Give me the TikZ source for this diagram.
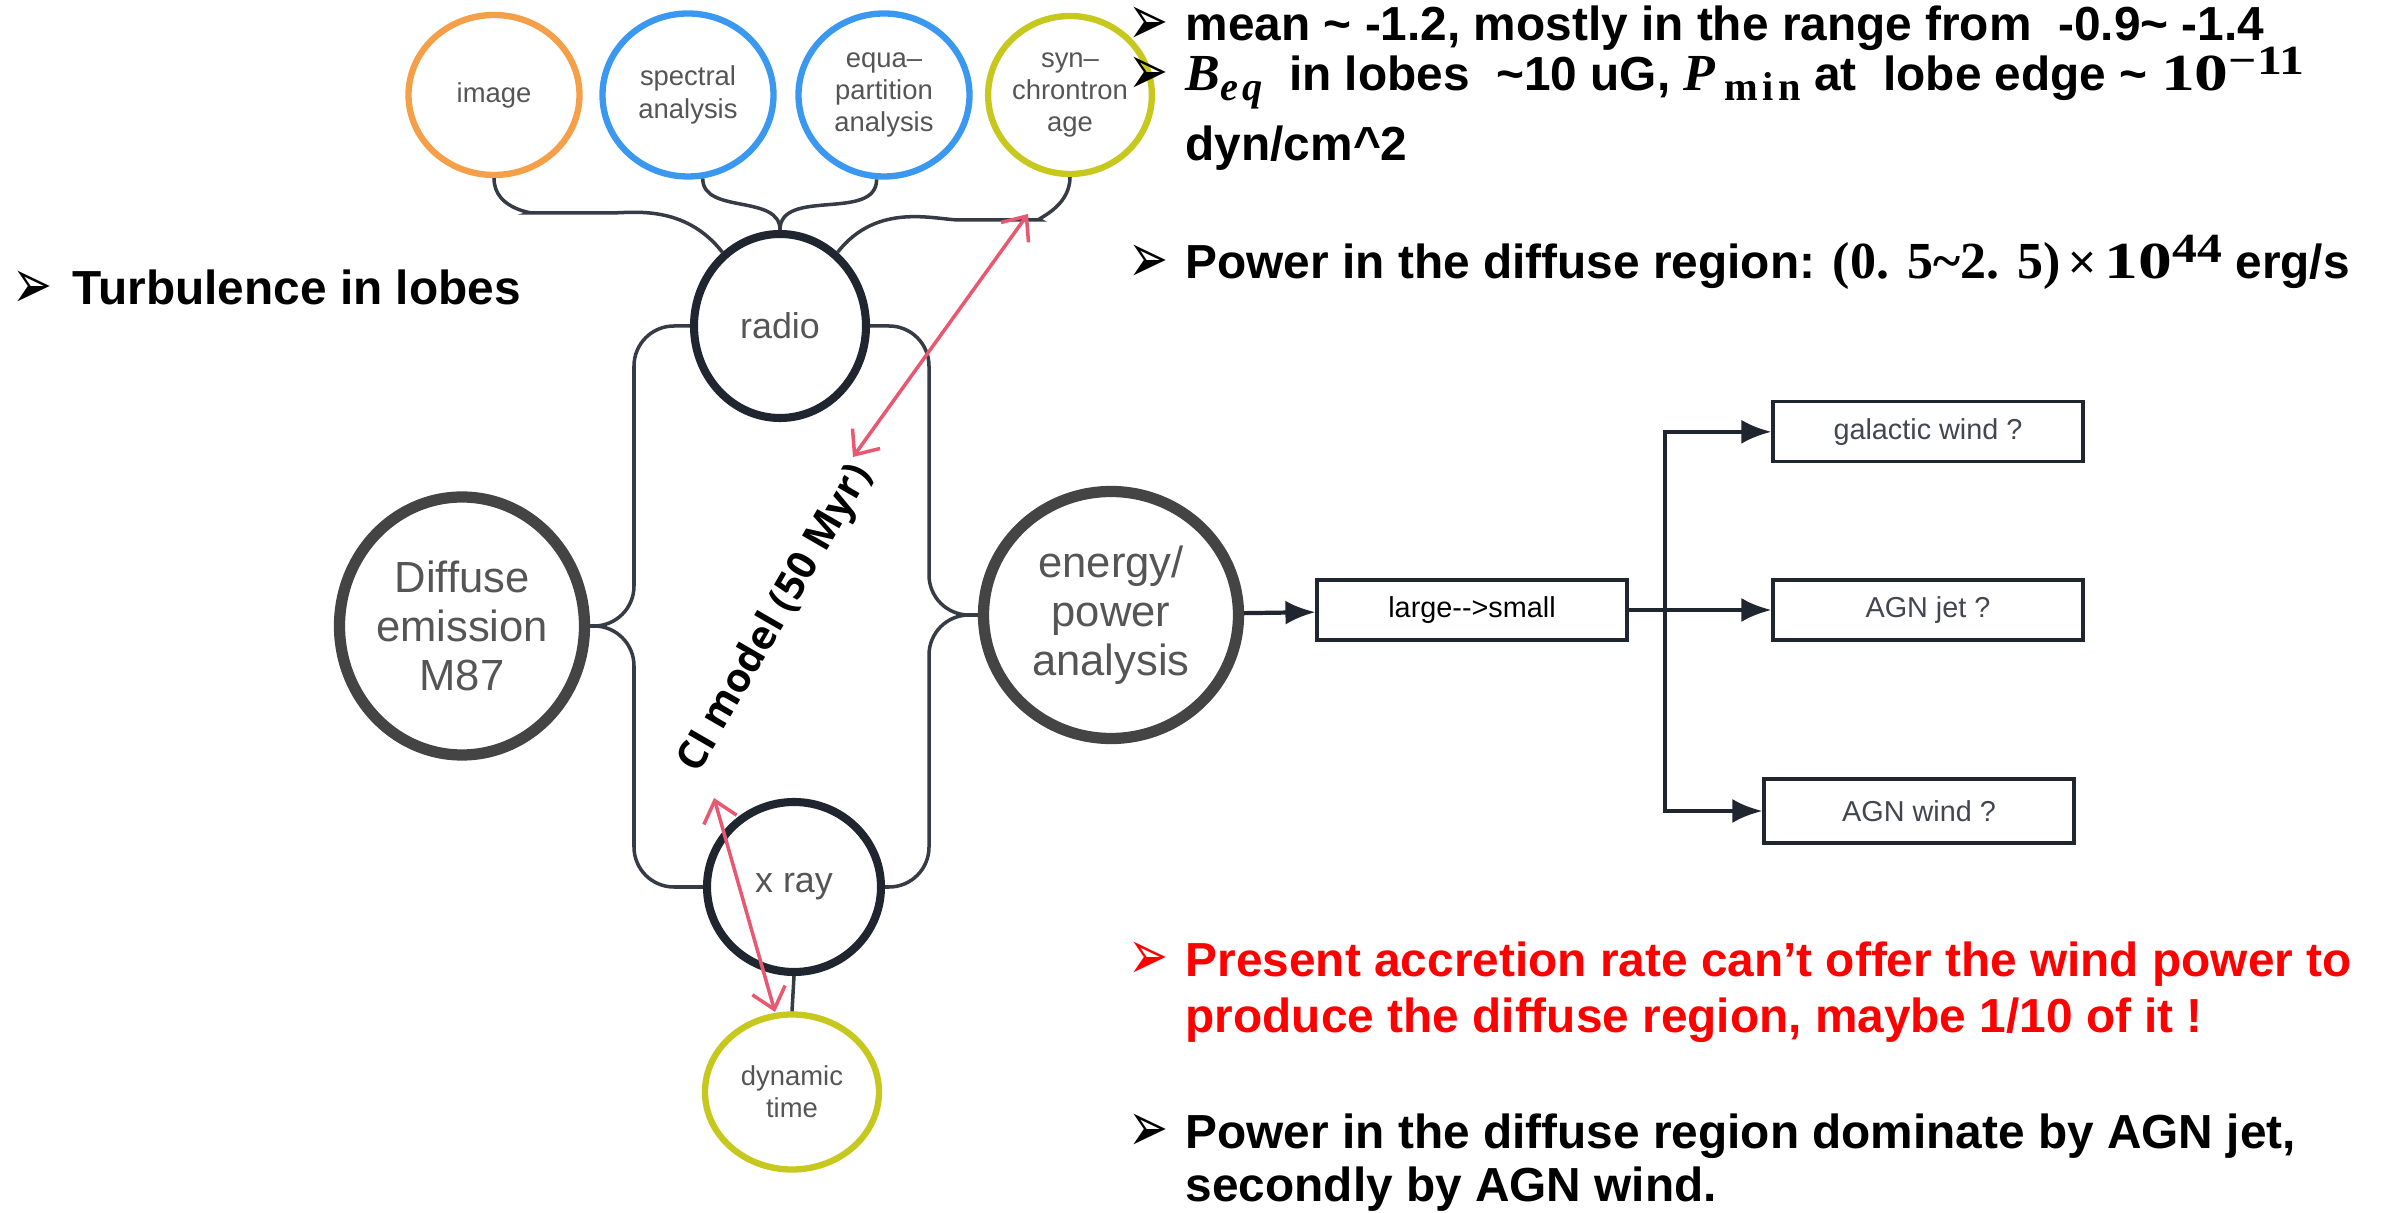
\documentclass[tikz,border=0pt]{standalone}
\usepackage[no-math]{fontspec}
\usepackage{amsmath}
\usepackage{graphicx}
\usepackage{xcolor}
\setmainfont{Liberation Sans}
\newfontfamily\symfont{DejaVu Sans}
\newfontfamily\labelfont{Open Sans}
\newfontfamily\mathserif{Liberation Serif}
\usetikzlibrary{shapes,arrows,arrows.meta,positioning,calc}

\definecolor{topicorange}{RGB}{245,160,72}
\definecolor{topicblue}{RGB}{58,152,240}
\definecolor{topicolive}{RGB}{198,200,30}
\definecolor{hubdark}{RGB}{32,38,48}
\definecolor{coregray}{RGB}{68,68,68}
\definecolor{labelgray}{RGB}{85,85,85}
\definecolor{agepink}{RGB}{232,88,112}

\newcommand{\bulletmark}{{\symfont\fontsize{20}{20}\selectfont\raisebox{-0.1ex}[0pt][0pt]{\scalebox{0.68}[1]{➢}}}}
\newcommand{\serifbit}[1]{{\mathserif\bfseries\fontsize{14.8}{16}\selectfont #1}}
\newcommand{\widebit}[1]{\scalebox{1.3}[1]{#1}}
\newcommand{\lowbit}[1]{\raisebox{-0.4ex}{\fontsize{11.5}{12}\selectfont #1}}
\newcommand{\highbit}[1]{\raisebox{0.7ex}{\fontsize{11.8}{12}\selectfont\scalebox{1.2}[1]{#1}}}

\begin{document}
\begin{tikzpicture}[
    topic/.style={ellipse, draw, line width=1.8pt, inner sep=0pt, align=center, text=labelgray, font=\fontsize{7.8}{9.2}\selectfont},
    hub/.style={ellipse, draw=hubdark, line width=2.3pt, inner sep=0pt, text=labelgray, font=\fontsize{10.2}{12}\selectfont},
    core/.style={ellipse, draw=coregray, line width=3.2pt, inner sep=0pt, align=center, text=labelgray, font=\fontsize{12.4}{14}\selectfont},
    outcome/.style={rectangle, draw=hubdark, line width=0.9pt, minimum width=3.1cm, minimum height=0.6cm, text=hubdark!85, font=\fontsize{8.2}{10}\selectfont},
    link/.style={draw=hubdark!90, line width=1pt, rounded corners=0.4cm},
    flow/.style={-{Latex[length=3mm,width=2.4mm]}, draw=hubdark, line width=1.2pt},
    agelink/.style={<->, >={Straight Barb[length=2mm,width=3.4mm]}, draw=agepink, line width=1pt},
    point/.style={anchor=base west, inner sep=0pt, font=\bfseries\fontsize{13.6}{16.2}\selectfont}
]
    \useasboundingbox (0,0) rectangle (24.07,12.12);

    % mind map
    \node[topic, draw=topicorange, minimum width=1.71cm, minimum height=1.6cm] (image) at (4.94,11.17) {image};
    \node[topic, draw=topicblue, minimum width=1.71cm, minimum height=1.63cm] (spectral) at (6.88,11.17) {spectral\\analysis};
    \node[topic, draw=topicblue, minimum width=1.71cm, minimum height=1.63cm] (equa) at (8.84,11.17) {equa–\\partition\\analysis};
    \node[topic, draw=topicolive, minimum width=1.58cm, minimum height=1.58cm] (syn) at (10.70,11.17) {syn–\\chrontron\\age};
    \node[hub, minimum width=1.72cm, minimum height=1.84cm] (radio) at (7.80,8.86) {radio};
    \node[core, minimum width=2.45cm, minimum height=2.58cm] (diffuse) at (4.62,5.86) {Diffuse\\emission\\M87};
    \node[core, minimum width=2.55cm, minimum height=2.47cm] (energy) at (11.11,5.97) {energy/\\power\\analysis};
    \node[hub, minimum width=1.74cm, minimum height=1.70cm] (xray) at (7.94,3.25) {x ray};
    \node[topic, draw=topicolive, minimum width=1.74cm, minimum height=1.55cm] (dynamic) at (7.92,1.20) {dynamic\\time};

    \coordinate (lbend) at (6.34,0);
    \coordinate (rbend) at (9.29,0);

    \draw[link] (image.south) to[out=-90,in=180] (5.7,9.99) to[out=0,in=128] (radio.128);
    \draw[link] (spectral.-80) to[out=-90,in=90] (radio.north);
    \draw[link] (equa.-95) to[out=-90,in=90] (radio.north);
    \draw[link] (syn.south) to[out=-90,in=0] (10.0,9.92) to[out=180,in=52] (radio.52);
    \draw[link] (radio.west) -| (lbend |- diffuse.east) -- (diffuse.east);
    \draw[link] (xray.west) -| (lbend |- diffuse.east) -- (diffuse.east);
    \draw[link] (radio.east) -| (rbend |- energy.west) -- (energy.west);
    \draw[link] (xray.east) -| (rbend |- energy.west) -- (energy.west);
    \draw[link] (xray.south) -- (dynamic.north);

    % CI model ages
    \coordinate (synage) at (10.28,9.98);
    \coordinate (cihead) at (8.53,7.55);
    \coordinate (citail) at (7.14,4.14);
    \coordinate (dynage) at (7.75,2.0);
    \draw[agelink] (synage) -- (cihead);
    \draw[agelink] (citail) -- (dynage);
    \node[rotate=60, font=\labelfont\bfseries\fontsize{11.4}{14}\selectfont] (cimodel) at (7.76,5.93) {CI model (50 Myr)};

    % outflow branches
    \node[outcome, text=black] (large) at (14.72,6.02) {large-{}->small};
    \node[outcome] (jet) at (19.28,6.02) {AGN jet ?};
    \node[outcome, above=1.15cm of jet] (galactic) {galactic wind ?};
    \node[outcome, minimum height=0.64cm] (wind) at (19.19,4.01) {AGN wind ?};
    \coordinate (split) at (16.65,6.02);

    \draw[flow] (energy) -- (large);
    \draw[flow] (large) -- (jet);
    \draw[flow] (split) |- (galactic);
    \draw[flow] (split) |- (wind);

    % notes
    \node[point] (turb) at (0.12,9.07) {\makebox[0.6cm][l]{\bulletmark}Turbulence in lobes};
    \node[point] (mean) at (11.28,11.71) {\makebox[0.57cm][l]{\bulletmark}mean \textasciitilde\ -1.2, mostly in the range from \ -0.9\textasciitilde\ -1.4};
    \node[point] (beq) at (11.28,11.21) {\makebox[0.57cm][l]{\bulletmark}\serifbit{\itshape B\lowbit{e\kern.1em q}}\ \ in lobes \ \textasciitilde10 uG, \serifbit{\itshape P\,\lowbit{\upshape m\kern.12em i\kern.12em n}}\ at \ lobe edge \textasciitilde\ \serifbit{\widebit{10}\highbit{−11}}};
    \node[point] (dyn) at (11.85,10.51) {dyn/cm\textasciicircum2};
    \node[point] (power) at (11.28,9.33) {\makebox[0.57cm][l]{\bulletmark}Power in the diffuse region: \serifbit{(0.\hspace{0.35em}5\textasciitilde2.\hspace{0.35em}5)}\,{\mdseries×}\,\serifbit{\widebit{10}\highbit{44}}\ erg/s};
    \node[point, text=red] (accretion) at (11.28,2.36) {\makebox[0.57cm][l]{\bulletmark}Present accretion rate can’t offer the wind power to};
    \node[point, text=red] (accretion2) at (11.85,1.80) {produce the diffuse region, maybe 1/10 of it !};
    \node[point] (dominate) at (11.28,0.64) {\makebox[0.57cm][l]{\bulletmark}Power in the diffuse region dominate by AGN jet,};
    \node[point] (dominate2) at (11.85,0.11) {secondly by AGN wind.};
\end{tikzpicture}
\end{document}
